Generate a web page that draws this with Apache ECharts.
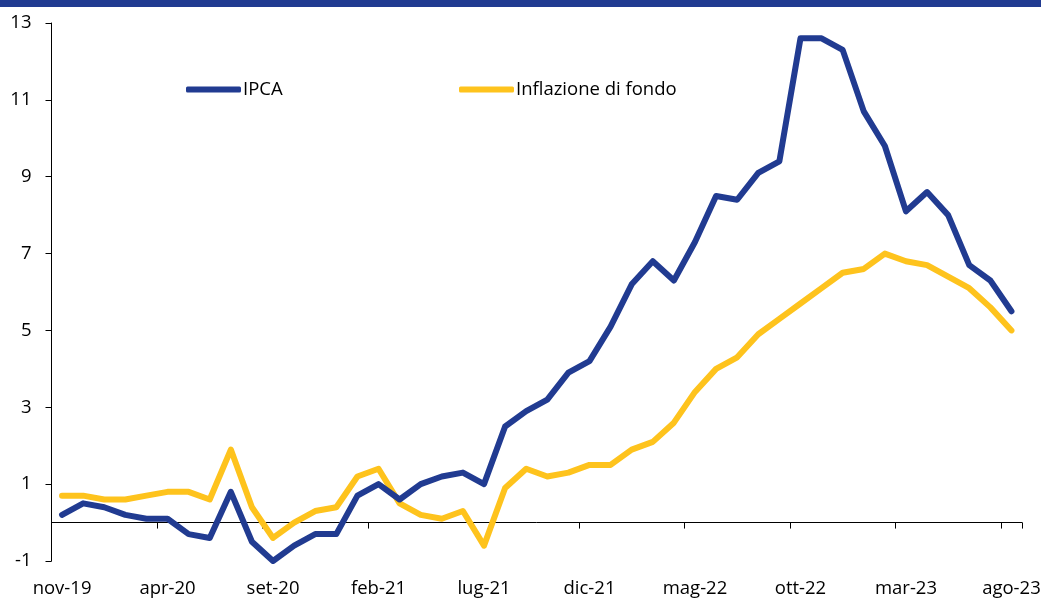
<!DOCTYPE html>
<html>
<head>
    <meta charset="utf-8">
    <title>IPCA e inflazione di fondo</title>
    <script src="https://cdn.jsdelivr.net/npm/echarts@6/dist/echarts.min.js"></script>
    <style>
      html, body { margin: 0; padding: 0; background: #fff; }
    </style>
</head>
<body>
    <div id="main" style="width:1041px;height:598px;"></div>
    <script type="text/javascript">
      // mesi da nov-19 a ago-23
      var mesi = ['nov-19','dic-19','gen-20','feb-20','mar-20','apr-20','mag-20','giu-20','lug-20','ago-20',
                  'set-20','ott-20','nov-20','dic-20','gen-21','feb-21','mar-21','apr-21','mag-21','giu-21',
                  'lug-21','ago-21','set-21','ott-21','nov-21','dic-21','gen-22','feb-22','mar-22','apr-22',
                  'mag-22','giu-22','lug-22','ago-22','set-22','ott-22','nov-22','dic-22','gen-23','feb-23',
                  'mar-23','apr-23','mag-23','giu-23','lug-23','ago-23'];
      var ipca = [0.2,0.5,0.4,0.2,0.1,0.1,-0.3,-0.4,0.8,-0.5,
                  -1.0,-0.6,-0.3,-0.3,0.7,1.0,0.6,1.0,1.2,1.3,
                  1.0,2.5,2.9,3.2,3.9,4.2,5.1,6.2,6.8,6.3,
                  7.3,8.5,8.4,9.1,9.4,12.6,12.6,12.3,10.7,9.8,
                  8.1,8.6,8.0,6.7,6.3,5.5];
      var fondo = [0.7,0.7,0.6,0.6,0.7,0.8,0.8,0.6,1.9,0.4,
                   -0.4,0.0,0.3,0.4,1.2,1.4,0.5,0.2,0.1,0.3,
                   -0.6,0.9,1.4,1.2,1.3,1.5,1.5,1.9,2.1,2.6,
                   3.4,4.0,4.3,4.9,5.3,5.7,6.1,6.5,6.6,7.0,
                   6.8,6.7,6.4,6.1,5.6,5.0];
      var yTicks = [-1, 1, 3, 5, 7, 9, 11, 13];

      var BLU = '#213b91';
      var GIALLO = '#fec31d';
      var FONT = 'Open Sans';
      var FS = 18.5;

      var chart = echarts.init(document.getElementById('main'));
      var option = {
        animation: false,
        textStyle: { fontFamily: FONT },
        graphic: [
          { type: 'rect', left: 0, top: 0, shape: { width: 1041, height: 7 }, style: { fill: BLU } }
        ],
        grid: { left: 51.5, right: 19, top: 23, bottom: 37, containLabel: false, outerBoundsMode: 'none' },
        legend: [
          {
            left: 186, top: 80, padding: 0, data: ['IPCA'],
            icon: 'roundRect', itemWidth: 55, itemHeight: 6,
            textStyle: { fontFamily: FONT, fontSize: FS, color: '#000', padding: [0, 0, 0, -3] }
          },
          {
            left: 459, top: 80, padding: 0, data: ['Inflazione di fondo'],
            icon: 'roundRect', itemWidth: 55, itemHeight: 6,
            textStyle: { fontFamily: FONT, fontSize: FS, color: '#000', padding: [0, 0, 0, -3] }
          }
        ],
        xAxis: [
          {
            type: 'category', data: mesi, boundaryGap: true,
            axisLine: { onZero: true, lineStyle: { color: '#000', width: 1 } },
            axisTick: { show: true, interval: 4, length: 6, lineStyle: { color: '#000', width: 1 } },
            axisLabel: { show: false },
            splitLine: { show: false }
          },
          {
            type: 'category', data: mesi, boundaryGap: true, position: 'bottom',
            axisLine: { show: false, onZero: false },
            axisTick: { show: false },
            axisLabel: { interval: 4, margin: 18, fontSize: FS, color: '#000', fontFamily: FONT },
            splitLine: { show: false }
          }
        ],
        yAxis: {
          type: 'value', min: -1, max: 13,
          axisLine: { show: true, lineStyle: { color: '#000', width: 1 } },
          axisTick: { show: true, length: 6, customValues: yTicks, lineStyle: { color: '#000' } },
          axisLabel: { customValues: yTicks, margin: 20, fontSize: FS, color: '#000', fontFamily: FONT },
          splitLine: { show: false }
        },
        series: [
          {
            name: 'Inflazione di fondo', type: 'line', data: fondo, symbol: 'none',
            itemStyle: { color: GIALLO },
            lineStyle: { color: GIALLO, width: 6, cap: 'round', join: 'round' }
          },
          {
            name: 'IPCA', type: 'line', data: ipca, symbol: 'none',
            itemStyle: { color: BLU },
            lineStyle: { color: BLU, width: 6, cap: 'round', join: 'round' }
          }
        ]
      };
      chart.setOption(option);
    </script>
</body>
</html>
